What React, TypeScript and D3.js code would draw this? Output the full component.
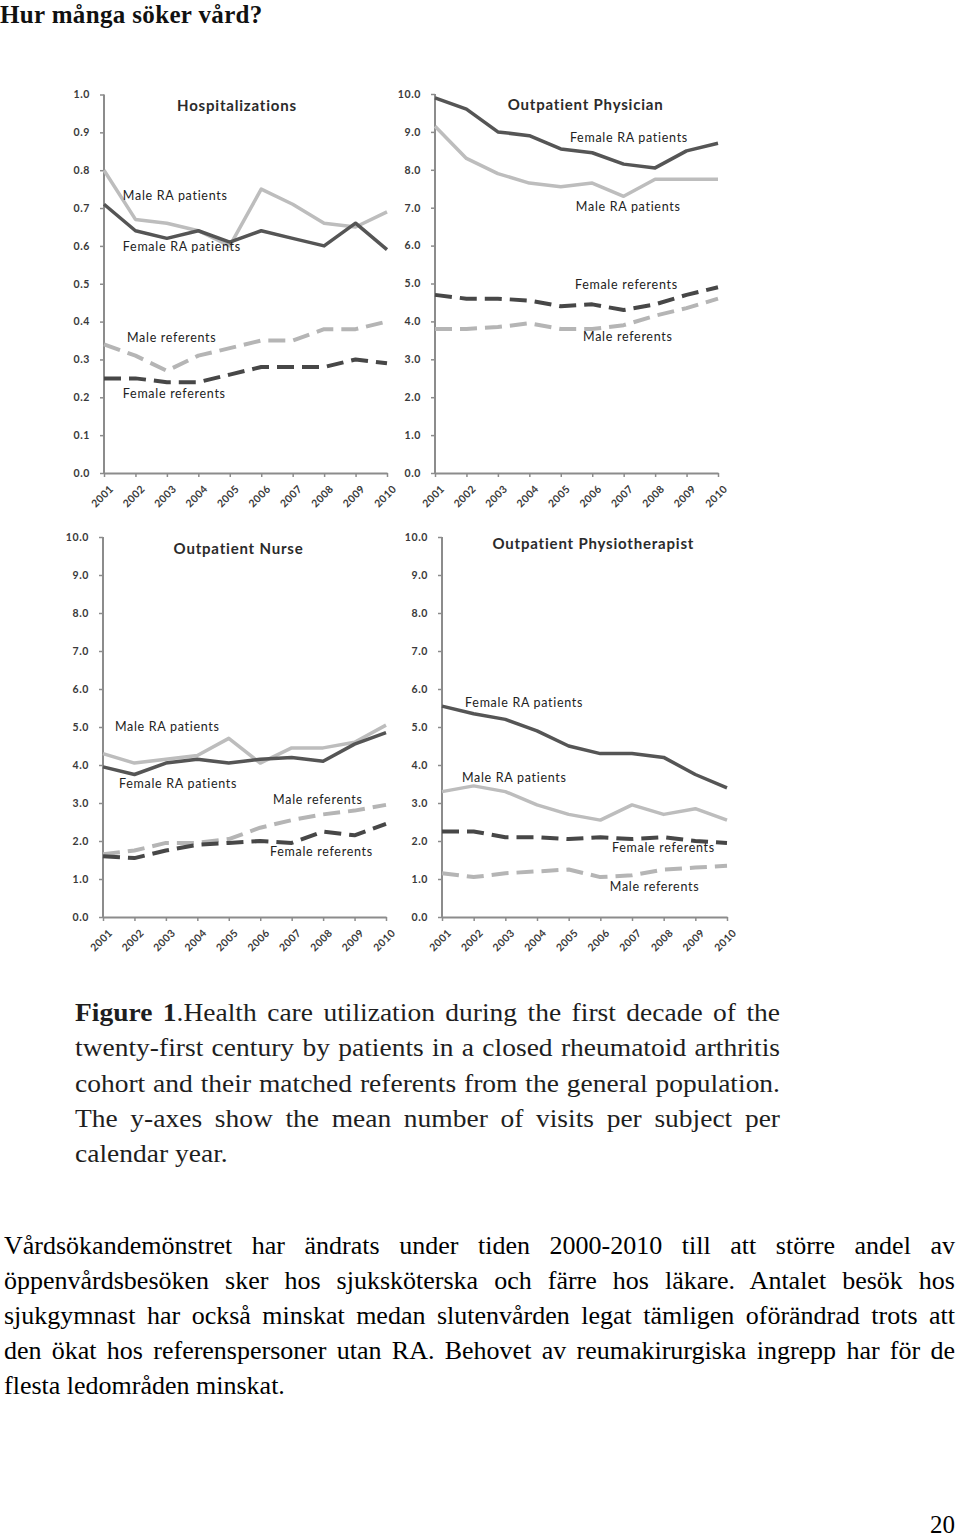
import React, { useEffect, useRef } from "react";
import * as d3 from "d3";

// ---------- data ----------
const years = ["2001", "2002", "2003", "2004", "2005", "2006", "2007", "2008", "2009", "2010"];

const hospFemaleRA = [0.71, 0.64, 0.62, 0.64, 0.61, 0.64, 0.62, 0.6, 0.66, 0.59];
const hospMaleRA = [0.8, 0.67, 0.66, 0.64, 0.6, 0.75, 0.71, 0.66, 0.65, 0.69];
const hospMaleRef = [0.34, 0.31, 0.27, 0.31, 0.33, 0.35, 0.35, 0.38, 0.38, 0.4];
const hospFemaleRef = [0.25, 0.25, 0.24, 0.24, 0.26, 0.28, 0.28, 0.28, 0.3, 0.29];

const physFemaleRA = [9.9, 9.6, 9.0, 8.9, 8.55, 8.45, 8.15, 8.05, 8.5, 8.7];
const physMaleRA = [9.15, 8.3, 7.9, 7.65, 7.55, 7.65, 7.3, 7.75, 7.75, 7.75];
const physFemaleRef = [4.7, 4.6, 4.6, 4.55, 4.4, 4.45, 4.3, 4.45, 4.7, 4.9];
const physMaleRef = [3.8, 3.8, 3.85, 3.95, 3.8, 3.8, 3.9, 4.15, 4.35, 4.6];

const nurseMaleRA = [4.3, 4.05, 4.15, 4.25, 4.7, 4.05, 4.45, 4.45, 4.6, 5.05];
const nurseFemaleRA = [3.95, 3.75, 4.05, 4.15, 4.05, 4.15, 4.2, 4.1, 4.55, 4.85];
const nurseMaleRef = [1.65, 1.75, 1.95, 1.95, 2.05, 2.35, 2.55, 2.7, 2.8, 2.95];
const nurseFemaleRef = [1.6, 1.55, 1.75, 1.9, 1.95, 2.0, 1.95, 2.25, 2.15, 2.45];

const physioFemaleRA = [5.55, 5.35, 5.2, 4.9, 4.5, 4.3, 4.3, 4.2, 3.75, 3.4];
const physioMaleRA = [3.3, 3.45, 3.3, 2.95, 2.7, 2.55, 2.95, 2.7, 2.85, 2.55];
const physioFemaleRef = [2.25, 2.25, 2.1, 2.1, 2.05, 2.1, 2.05, 2.1, 2.0, 1.95];
const physioMaleRef = [1.15, 1.05, 1.15, 1.2, 1.25, 1.05, 1.1, 1.25, 1.3, 1.35];

const pageTitle = "Hur många söker vård?";
const captionBold = "Figure 1";
const captionLines = [
  ".Health care utilization during the first decade of the",
  "twenty-first century by patients in a closed rheumatoid arthritis",
  "cohort and their matched referents from the general population.",
  "The y-axes show the mean number of visits per subject per",
  "calendar year.",
];
const paragraphLines = [
  "Vårdsökandemönstret har ändrats under tiden 2000-2010 till att större andel av",
  "öppenvårdsbesöken sker hos sjuksköterska och färre hos läkare. Antalet besök hos",
  "sjukgymnast har också minskat medan slutenvården legat tämligen oförändrad trots att",
  "den ökat hos referenspersoner utan RA. Behovet av reumakirurgiska ingrepp har för de",
  "flesta ledområden minskat.",
];
const pageNumber = "20";

// ---------- styles ----------
const DARK = "#555555";
const LIGHT = "#bdbdbd";
const DARK_DASH = "#474747";
const LIGHT_DASH = "#b5b5b5";
const CHART_FONT = "Lato, 'Open Sans', sans-serif";
const SERIF = "'Liberation Serif', 'Times New Roman', serif";

type Series = { values: number[]; color: string; dashed: boolean };
type Label = { text: string; xi: number; v: number };
type Panel = {
  title: string;
  titleXi: number;
  titleV: number;
  x0: number;
  x1: number;
  yTop: number;
  yBot: number;
  max: number;
  step: number;
  series: Series[];
  labels: Label[];
};

const panels: Panel[] = [
  {
    title: "Hospitalizations",
    titleXi: 4.23,
    titleV: 0.97,
    x0: 104,
    x1: 387,
    yTop: 94.5,
    yBot: 473,
    max: 1,
    step: 0.1,
    series: [
      { values: hospMaleRef, color: LIGHT_DASH, dashed: true },
      { values: hospFemaleRef, color: DARK_DASH, dashed: true },
      { values: hospMaleRA, color: LIGHT, dashed: false },
      { values: hospFemaleRA, color: DARK, dashed: false },
    ],
    labels: [
      { text: "Male RA patients", xi: 0.6, v: 0.732 },
      { text: "Female RA patients", xi: 0.6, v: 0.597 },
      { text: "Male referents", xi: 0.73, v: 0.357 },
      { text: "Female referents", xi: 0.6, v: 0.209 },
    ],
  },
  {
    title: "Outpatient Physician",
    titleXi: 4.79,
    titleV: 9.71,
    x0: 435,
    x1: 718,
    yTop: 94,
    yBot: 473,
    max: 10,
    step: 1,
    series: [
      { values: physMaleRef, color: LIGHT_DASH, dashed: true },
      { values: physFemaleRef, color: DARK_DASH, dashed: true },
      { values: physMaleRA, color: LIGHT, dashed: false },
      { values: physFemaleRA, color: DARK, dashed: false },
    ],
    labels: [
      { text: "Female RA patients", xi: 4.29, v: 8.84 },
      { text: "Male RA patients", xi: 4.48, v: 7.02 },
      { text: "Female referents", xi: 4.45, v: 4.96 },
      { text: "Male referents", xi: 4.71, v: 3.59 },
    ],
  },
  {
    title: "Outpatient Nurse",
    titleXi: 4.31,
    titleV: 9.68,
    x0: 103,
    x1: 386,
    yTop: 537,
    yBot: 917,
    max: 10,
    step: 1,
    series: [
      { values: nurseMaleRef, color: LIGHT_DASH, dashed: true },
      { values: nurseFemaleRef, color: DARK_DASH, dashed: true },
      { values: nurseMaleRA, color: LIGHT, dashed: false },
      { values: nurseFemaleRA, color: DARK, dashed: false },
    ],
    labels: [
      { text: "Male RA patients", xi: 0.38, v: 5.0 },
      { text: "Female RA patients", xi: 0.51, v: 3.5 },
      { text: "Male referents", xi: 5.41, v: 3.1 },
      { text: "Female referents", xi: 5.31, v: 1.71 },
    ],
  },
  {
    title: "Outpatient Physiotherapist",
    titleXi: 4.78,
    titleV: 9.82,
    x0: 442,
    x1: 727,
    yTop: 537,
    yBot: 917,
    max: 10,
    step: 1,
    series: [
      { values: physioMaleRef, color: LIGHT_DASH, dashed: true },
      { values: physioFemaleRef, color: DARK_DASH, dashed: true },
      { values: physioMaleRA, color: LIGHT, dashed: false },
      { values: physioFemaleRA, color: DARK, dashed: false },
    ],
    labels: [
      { text: "Female RA patients", xi: 0.73, v: 5.63 },
      { text: "Male RA patients", xi: 0.63, v: 3.68 },
      { text: "Female referents", xi: 5.37, v: 1.82 },
      { text: "Male referents", xi: 5.3, v: 0.79 },
    ],
  },
];

const W = 960;
const H = 1539;

export default function App() {
  const ref = useRef<SVGSVGElement | null>(null);

  useEffect(() => {
    document.body.style.margin = "0";
    const svg = d3.select(ref.current);
    svg.selectAll("*").remove();
    svg.append("rect").attr("width", W).attr("height", H).attr("fill", "#fff");

    // ---------- charts ----------
    const fmt = d3.format(".1f");
    panels.forEach((p) => {
      const g = svg.append("g");
      const x = d3.scaleLinear().domain([0, years.length - 1]).range([p.x0, p.x1]);
      const y = d3.scaleLinear().domain([0, p.max]).range([p.yBot, p.yTop]);
      const ticks = d3.range(0, p.max + p.step / 2, p.step);

      // y axis
      const yAxis = d3
        .axisLeft(y)
        .tickValues(ticks)
        .tickFormat((d) => fmt(d as number))
        .tickSize(4)
        .tickPadding(10);
      const ya = g.append("g").attr("transform", `translate(${p.x0},0)`).call(yAxis);
      ya.select(".domain").attr("stroke", "#8c8c8c").attr("stroke-width", 2).attr("d", `M0,${p.yBot}V${p.yTop}`);
      ya.selectAll(".tick line").attr("stroke", "#8c8c8c").attr("stroke-width", 1.5);
      ya.selectAll(".tick text")
        .attr("font-family", CHART_FONT)
        .attr("font-size", 10.5)
        .attr("font-weight", "bold")
        .attr("letter-spacing", 0.6)
        .attr("fill", "#3a3a3a");

      // x axis
      const xAxis = d3
        .axisBottom(x)
        .tickValues(d3.range(years.length))
        .tickFormat((d) => years[d as number])
        .tickSize(4)
        .tickSizeOuter(0);
      const xa = g.append("g").attr("transform", `translate(0,${p.yBot})`).call(xAxis);
      xa.select(".domain").attr("stroke", "#8c8c8c").attr("stroke-width", 2);
      xa.selectAll(".tick line").attr("stroke", "#8c8c8c").attr("stroke-width", 1.5);
      xa.selectAll(".tick text")
        .attr("font-family", CHART_FONT)
        .attr("font-size", 10.5)
        .attr("font-weight", "bold")
        .attr("letter-spacing", 0.4)
        .attr("fill", "#3a3a3a")
        .attr("text-anchor", "end")
        .attr("dy", "0.35em")
        .attr("transform", "translate(7,14) rotate(-45)")
        .attr("x", 0)
        .attr("y", 0);

      // lines
      const line = d3
        .line<number>()
        .x((_, i) => x(i))
        .y((d) => y(d));
      p.series.forEach((s) => {
        g.append("path")
          .attr("d", line(s.values) as string)
          .attr("fill", "none")
          .attr("stroke", s.color)
          .attr("stroke-width", s.dashed ? 4 : 3.5)
          .attr("stroke-linejoin", "round")
          .attr("stroke-dasharray", s.dashed ? "17,8" : null);
      });

      // title
      g.append("text")
        .attr("x", x(p.titleXi))
        .attr("y", y(p.titleV))
        .attr("dy", "0.35em")
        .attr("text-anchor", "middle")
        .attr("font-family", CHART_FONT)
        .attr("font-size", 15)
        .attr("font-weight", "bold")
        .attr("letter-spacing", 0.8)
        .attr("fill", "#2b2b2b")
        .text(p.title);

      // series labels
      p.labels.forEach((l) => {
        g.append("text")
          .attr("x", x(l.xi))
          .attr("y", y(l.v))
          .attr("dy", "0.35em")
          .attr("font-family", CHART_FONT)
          .attr("font-size", 12.5)
          .attr("letter-spacing", 0.7)
          .attr("fill", "#222")
          .text(l.text);
      });
    });

    // ---------- page title ----------
    svg
      .append("text")
      .attr("x", 0)
      .attr("y", 22.5)
      .attr("font-family", SERIF)
      .attr("font-size", 25)
      .attr("font-weight", "bold")
      .attr("letter-spacing", 0.35)
      .attr("fill", "#111")
      .text(pageTitle);

    // justify helper
    const justify = (sel: any, target: number, text: string) => {
      const node = sel.node() as SVGTextElement;
      const w = node.getComputedTextLength();
      const spaces = (text.match(/ /g) || []).length;
      if (spaces > 0 && w < target) {
        sel.attr("word-spacing", (target - w) / spaces);
      }
    };

    // ---------- caption ----------
    const capX = 75;
    const capRight = 780;
    captionLines.forEach((ln, i) => {
      const t = svg
        .append("text")
        .attr("x", 0)
        .attr("y", 0)
        .attr("transform", `translate(${capX},${1021 + i * 35.3}) scale(1,0.9)`)
        .attr("font-family", SERIF)
        .attr("font-size", 27.5)
        .attr("fill", "#1e1e1e");
      let full = ln;
      if (i === 0) {
        t.append("tspan").attr("font-weight", "bold").text(captionBold);
        full = captionBold + ln;
      }
      t.append("tspan").text(ln);
      if (i < captionLines.length - 1) justify(t, capRight - capX, full);
    });

    // ---------- paragraph ----------
    const parX = 4;
    const parRight = 955;
    paragraphLines.forEach((ln, i) => {
      const t = svg
        .append("text")
        .attr("x", parX)
        .attr("y", 1254 + i * 35)
        .attr("font-family", SERIF)
        .attr("font-size", 26)
        .attr("fill", "#000")
        .text(ln);
      if (i < paragraphLines.length - 1) justify(t, parRight - parX, ln);
    });

    // ---------- page number ----------
    svg
      .append("text")
      .attr("x", 955)
      .attr("y", 1533)
      .attr("text-anchor", "end")
      .attr("font-family", SERIF)
      .attr("font-size", 25)
      .attr("fill", "#000")
      .text(pageNumber);
  }, []);

  return <svg ref={ref} width={W} height={H} style={{ display: "block" }} />;
}
